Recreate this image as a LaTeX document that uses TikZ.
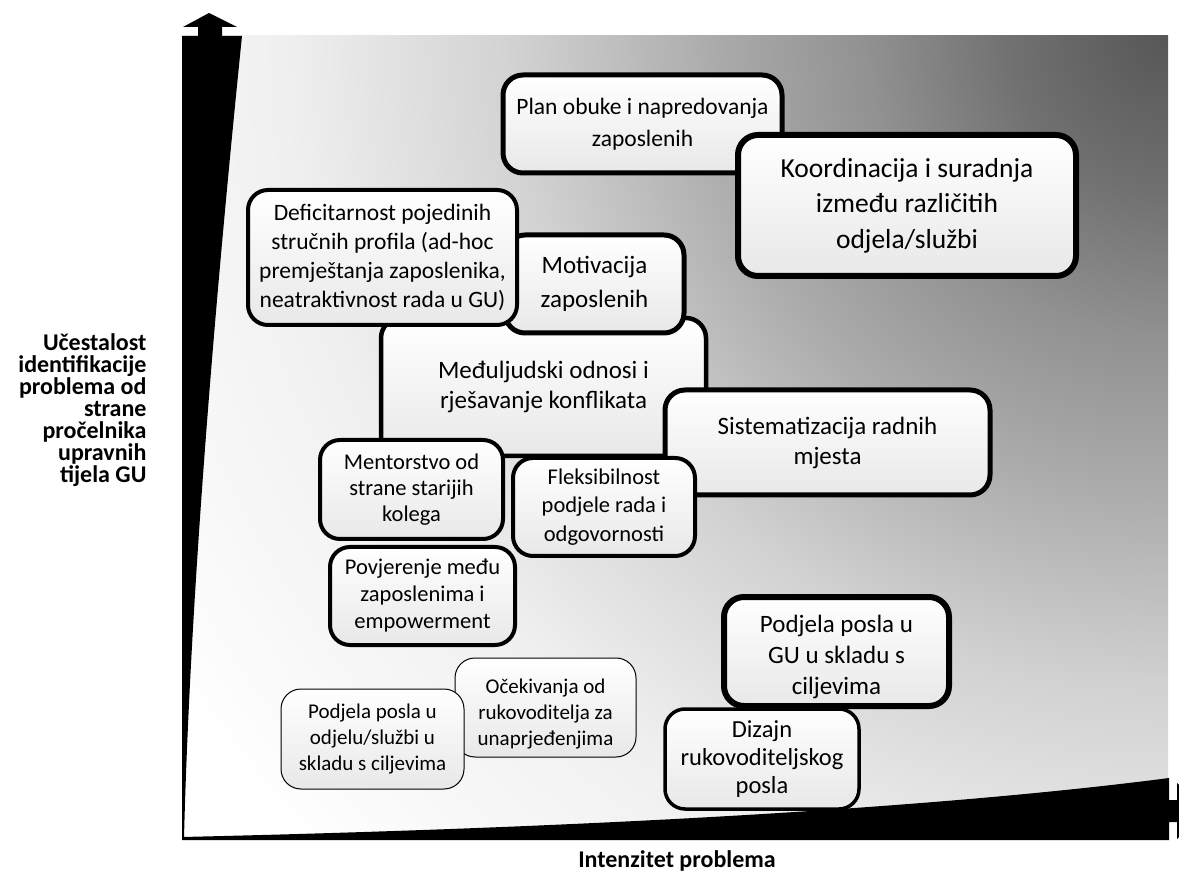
\documentclass[tikz,border=0pt]{standalone}
\usepackage{fontspec}
\setmainfont{Carlito}
\definecolor{c0}{gray}{0.34}
\definecolor{c1}{gray}{0.44}
\definecolor{c2}{gray}{0.57}
\definecolor{c3}{gray}{0.67}
\definecolor{c4}{gray}{0.82}
\definecolor{c5}{gray}{0.94}
\definecolor{c6}{gray}{1.0}
\definecolor{boxlow}{gray}{0.91}
\pgfdeclareradialshading{bgshade}{\pgfpoint{0bp}{0bp}}{color(0bp)=(c0); color(3bp)=(c1); color(5.8bp)=(c2); color(8.7bp)=(c3); color(12.5bp)=(c4); color(17bp)=(c5); color(23bp)=(c6); color(50bp)=(c6)}
\tikzset{
  pbox/.style={draw=black, rounded corners=20pt, top color=white, bottom color=boxlow, align=center, inner sep=0pt},
  fsmall/.style={font=\fontsize{21}{26}\selectfont},
  axisfill/.style={fill=black, draw=none},
  axlabel/.style={font=\bfseries\fontsize{24}{22}\selectfont}
}
\begin{document}
\begin{tikzpicture}[x=1pt,y=-1pt]
\clip (0,0) rectangle (1179,890);
\fill[white] (0,0) rectangle (1179,890);
% background
\begin{scope}
  \clip (182,36) rectangle (1168,838);
  \shade[shading=bgshade] (1168,36) circle (1300pt);
\end{scope}
% vertical axis
\fill[axisfill] (182,36) -- (242,36) .. controls (215,300) and (190,600) .. (184,838) -- (182,838) -- cycle;
\fill[axisfill] (183,27) -- (198,27) -- (198,36) -- (222,36) -- (222,27) -- (237,27) -- (209,13) -- cycle;
% horizontal axis
\fill[axisfill] (182,837) .. controls (700,825) and (1000,800) .. (1169,778) -- (1169,840) -- (182,840) -- cycle;
\fill[axisfill] (1169,800) -- (1177,800) -- (1177,783) -- (1205,811) -- (1177,839) -- (1177,822) -- (1169,822) -- cycle;

% boxes
\node[pbox, font=\fontsize{25}{30}\selectfont, line width=4.5pt, minimum width=325pt, minimum height=138pt] (medj) at (543.5,387) {Međuljudski odnosi i\\rješavanje konflikata};
\node[pbox, font=\fontsize{25}{34}\selectfont, line width=5pt, minimum width=179pt, minimum height=98pt] (motiv) at (594.5,284) {Motivacija\\zaposlenih};
\node[pbox, font=\fontsize{23.5}{29}\selectfont, line width=4pt, minimum width=269pt, minimum height=135pt] (defic) at (382.5,257.5) {Deficitarnost pojedinih\\stručnih profila (ad-hoc\\premještanja zaposlenika,\\neatraktivnost rada u GU)};
\node[pbox, font=\fontsize{23.5}{32}\selectfont, line width=5pt, minimum width=279pt, minimum height=98pt] (plan) at (642.5,124) {Plan obuke i napredovanja\\zaposlenih};
\node[pbox, font=\fontsize{27.5}{35.5}\selectfont, line width=6pt, minimum width=338pt, minimum height=141pt] (koord) at (907,205.5) {Koordinacija i suradnja\\između različitih\\odjela/službi};
\node[pbox, font=\fontsize{25}{30}\selectfont, line width=5pt, minimum width=325pt, minimum height=105pt] (sist) at (827.5,442.5) {Sistematizacija radnih\\mjesta};
\node[pbox, font=\fontsize{22.5}{26}\selectfont, line width=4pt, minimum width=183pt, minimum height=99pt] (ment) at (411.5,489.5) {Mentorstvo od\\strane starijih\\kolega};
\node[pbox, font=\fontsize{22.5}{28.5}\selectfont, line width=4pt, minimum width=182pt, minimum height=98pt] (fleks) at (604,507) {Fleksibilnost\\podjele rada i\\odgovornosti};
\node[pbox, font=\fontsize{22.5}{27}\selectfont, line width=4pt, minimum width=185pt, minimum height=98pt] (povj) at (422.5,596) {Povjerenje među\\zaposlenima i\\empowerment};
\node[pbox, line width=6pt, minimum width=225pt, minimum height=109pt] (podgu) at (836.5,651.5) {};
\node[font=\fontsize{25}{31}\selectfont, align=center, yshift=-5pt] (podgut) at (podgu.center) {Podjela posla u\\GU u skladu s\\ciljevima};
\node[pbox, font=\fontsize{24.5}{28}\selectfont, line width=3.5pt, minimum width=194pt, minimum height=100pt] (diz) at (762,759) {Dizajn\\rukovoditeljskog\\posla};
\node[pbox, line width=1pt, minimum width=181pt, minimum height=99pt] (ocek) at (545.5,707.5) {};
\node[fsmall, align=center, yshift=-7pt] (ocekt) at (ocek.center) {Očekivanja od\\rukovoditelja za\\unaprjeđenjima};
\node[pbox, fsmall, line width=1pt, minimum width=183pt, minimum height=100pt] (podod) at (372.5,739) {Podjela posla u\\odjelu/službi u\\skladu s ciljevima};

% axis labels
\node[axlabel, align=right, anchor=east] (ylab) at (150,410) {Učestalost\\identifikacije\\problema od\\strane\\pročelnika\\upravnih\\tijela GU};
\node[font=\bfseries\fontsize{24}{26}\selectfont] (xlab) at (677,861) {Intenzitet problema};
\end{tikzpicture}
\end{document}
